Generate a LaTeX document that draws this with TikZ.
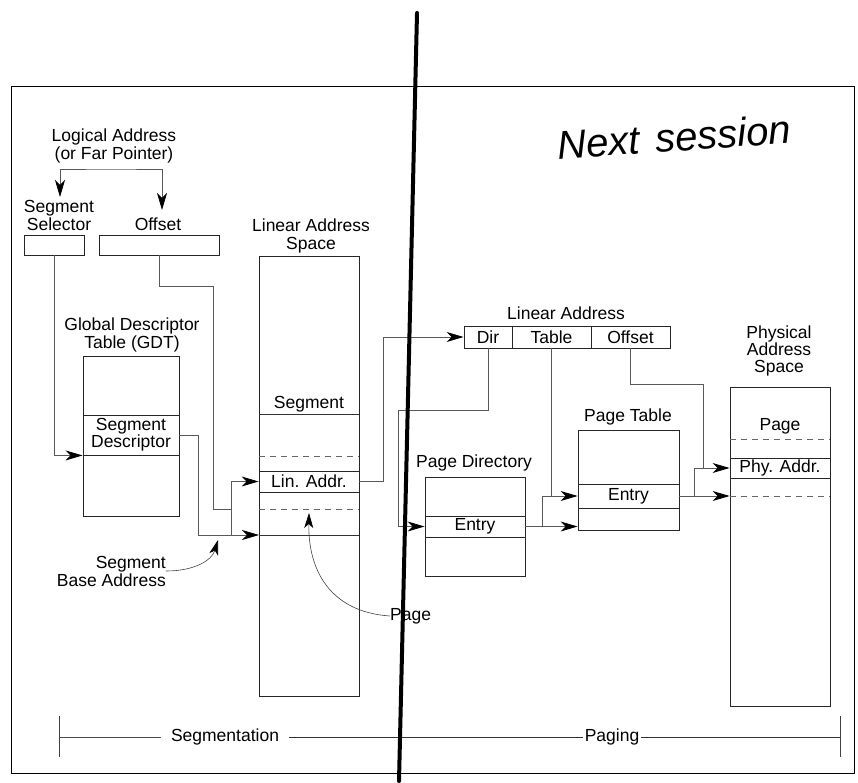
\documentclass[tikz,border=0pt]{standalone}
\usepackage{fontspec}
\setmainfont{Liberation Sans}
\usetikzlibrary{arrows.meta,calc}
\begin{document}
\begin{tikzpicture}[x=1pt,y=-1pt,
  txt/.style={font=\fontsize{17.5}{18}\selectfont, inner sep=0pt, align=center},
  box/.style={draw=black!85, line width=0.9pt, inner sep=0pt, font=\fontsize{17.5}{16}\selectfont, align=center},
  conn/.style={draw=black!65, line width=0.8pt},
  tip/.style={-{Stealth[length=17pt,width=10pt,inset=5pt,black]}},
  dsh/.style={draw=black!60, line width=0.8pt, dash pattern=on 6pt off 5pt},
  sep/.style={draw=black!80, line width=0.8pt}]
\useasboundingbox (0,0) rectangle (858,783);
% frame
\draw[black, line width=1pt] (11,87) rectangle (854,773);

% ---------- segmentation part ----------
\node[txt] (logT) at (114,146) {Logical Address\\(or Far Pointer)};
\node[txt] (selT) at (59,215) {Segment\\Selector};
\node[txt] (offT) at (158,224) {Offset};
\node[box, minimum width=60pt, minimum height=20pt] (sel) at (54,245) {};
\node[box, minimum width=120pt, minimum height=20pt] (off) at (159,245) {};
\coordinate (selIn) at (60,197);
\coordinate (offIn) at (162,210);
\draw[conn, {Stealth[length=17pt,width=10pt,inset=5pt,black]}-{Stealth[length=17pt,width=10pt,inset=5pt,black]}] (selIn) |- (111,169) -| (offIn);

\node[txt] (gdtT) at (132,334.5) {Global Descriptor\\Table (GDT)};
\node[box, minimum width=96pt, minimum height=160pt] (gdt) at (131,436) {};
\node[box, minimum width=96pt, minimum height=40pt] (gdtrow) at (131,435) {Segment\\Descriptor};

\node[txt] (linT) at (311,235.5) {Linear Address\\Space};
\node[box, minimum width=100pt, minimum height=440pt] (lin) at (309,476) {};
\node[txt] (segL) at (309,404) {Segment};
\draw[sep] (259,414) -- (359,414);
\draw[dsh] (259,456) -- (359,456);
\node[box, minimum width=100pt, minimum height=21pt] (linrow) at (309,481.5) {Lin. Addr.};
\draw[dsh] (259,509) -- (359,509);
\draw[sep] (259,535) -- (359,535);
\coordinate (lbase) at (259,535);

% connectors (segmentation)
\draw[conn, tip] (sel.south) |- (gdtrow.south west);
\draw[conn, tip] (gdtrow.east) -| (198,535) -- (lbase);
\draw[conn] (off.south) |- (213,286) |- (231,509);
\draw[conn, tip] (231,535) |- (linrow.west);

\node[txt, align=right, anchor=east] (sbaT) at (166,571) {Segment\\Base Address};
\draw[black!75, line width=0.6pt, -{Stealth[length=15pt,width=9pt,inset=4pt,black]}] (sbaT.east) .. controls (195,571) and (212,560) .. (218,540);

\node[txt, anchor=west] (pgT) at (390,616) {Page};
\draw[black!75, line width=0.6pt, -{Stealth[length=15pt,width=9pt,inset=4pt,black]}] (pgT.west) .. controls (330,612) and (308,570) .. (309,513);

% ---------- paging part ----------
\node[txt] (laT) at (566,313) {Linear Address};
\node[box, minimum width=48pt, minimum height=22pt] (dir) at (488,337) {Dir};
\node[box, minimum width=79pt, minimum height=22pt] (tab) at (551.5,337) {Table};
\node[box, minimum width=79pt, minimum height=22pt] (ofs) at (630.5,337) {Offset};

\node[txt] (pdT) at (474,463) {Page Directory};
\node[box, minimum width=100pt, minimum height=99pt] (pd) at (475,526.5) {};
\node[box, minimum width=100pt, minimum height=21pt] (pdrow) at (475,526.5) {Entry};

\node[txt] (ptT) at (628,417) {Page Table};
\node[box, minimum width=101pt, minimum height=100pt] (pt) at (628.5,480) {};
\node[box, minimum width=101pt, minimum height=24pt] (ptrow) at (628.5,496) {Entry};

\node[txt, font=\fontsize{17.5}{17}\selectfont] (physT) at (779,351) {Physical\\Address\\Space};
\node[box, minimum width=100pt, minimum height=319pt] (phys) at (780,546.5) {};
\node[txt] (pageP) at (780,426) {Page};
\draw[dsh] (730,439) -- (830,439);
\node[box, minimum width=100pt, minimum height=20pt] (physrow) at (780,468) {Phy. Addr.};
\draw[dsh] (730,496) -- (830,496);

% connectors (paging)
\draw[conn, tip] (linrow.east) -- (383,481.5) |- (dir.west);
\draw[conn, tip] (dir.south) |- (398,410) |- (pdrow.west);
\draw[conn, tip] (tab.south) |- (ptrow.west);
\draw[conn, tip] (pdrow.east) -- (pdrow.east -| pt.west);
\coordinate (j1) at ($(pdrow.east)+(17,0)$);
\draw[conn] (j1) |- (tab.south |- ptrow.west);
\draw[conn, tip] (ofs.south) |- (703,384) |- (physrow.west);
\draw[conn, tip] (ptrow.east) -- (ptrow.east -| phys.west);
\coordinate (j2) at ($(ptrow.east)+(15,0)$);
\draw[conn] (j2) |- (703,468);

% ---------- bottom scale ----------
\node[txt, inner xsep=10pt] (segT) at (225,737) {Segmentation};
\node[txt, inner xsep=2pt] (pagT) at (612,737) {Paging};
\coordinate (bl) at (59,737);
\coordinate (br) at (840,737);
\draw[black!75, line width=0.9pt] (59,716) -- (59,757);
\draw[black!75, line width=0.9pt] (840,716) -- (840,757);
\draw[black!70, line width=0.7pt] (bl) -- (segT.west);
\draw[black!80, line width=0.7pt] (segT.east) -- (pagT.west);
\draw[black!80, line width=0.7pt] (pagT.east) -- (br);

% ---------- handwritten annotations ----------
\node[font=\fontsize{40}{40}\selectfont\itshape, rotate=4, inner sep=0pt] (note) at (674,137) {Next\hspace{16pt}session};
\draw[black, line width=4pt, line cap=round] (417,13) -- (399,781);
\end{tikzpicture}
\end{document}
